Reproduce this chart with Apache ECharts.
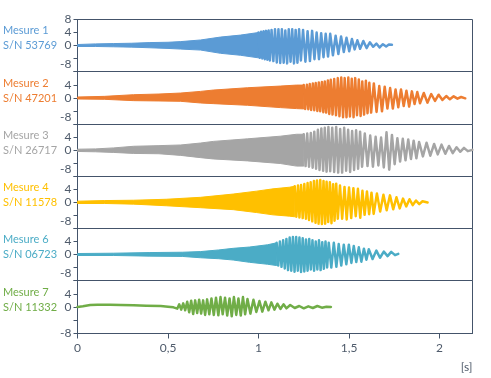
<!DOCTYPE html>
<html><head><meta charset="utf-8">
<script src="https://cdn.jsdelivr.net/npm/echarts@6/dist/echarts.min.js"></script>
<style>html,body{margin:0;padding:0;background:#fff}#c{width:491px;height:378px}</style>
</head><body><div id="c"></div><script>
// ---------- data ----------
const panelNames = ['Mesure 1', 'Mesure 2', 'Mesure 3', 'Mesure 4', 'Mesure 6', 'Mesure 7'];
const serials = ['S/N 53769', 'S/N 47201', 'S/N 26717', 'S/N 11578', 'S/N 06723', 'S/N 11332'];
const xTickValues = [0, 0.5, 1, 1.5, 2];
const xTickLabels = ['0', '0,5', '1', '1,5', '2'];
const yTickValues = [-8, -4, 0, 4, 8];
const yTickLabels = ['-8', '', '0', '4', '8'];
const xUnit = '[s]';

// dense part: [t, upper, lower]
const m1Band = [[0,0.3,-0.3],[0.1,0.5,-0.3],[0.2,0.6,-0.4],[0.3,0.7,-0.5],[0.4,0.9,-0.7],[0.5,1.0,-0.9],[0.57,1.2,-1.1],[0.68,1.7,-1.4],[0.79,2.6,-2.4],[0.9,3.2,-3.0],[1.0,4.0,-3.8]];
const m2Band = [[0,0.3,-0.3],[0.15,0.5,-0.4],[0.31,1.0,-0.8],[0.45,1.2,-0.9],[0.57,1.5,-1.0],[0.68,2.0,-1.5],[0.75,2.4,-1.7],[0.94,3.1,-2.2],[1.12,3.6,-2.9],[1.21,3.9,-3.2],[1.25,3.9,-3.3]];
const m3Band = [[0,0.4,-0.3],[0.1,0.5,-0.4],[0.2,0.8,-0.6],[0.31,1.3,-0.9],[0.45,1.5,-1.0],[0.57,1.7,-1.5],[0.68,2.3,-2.2],[0.75,2.8,-2.6],[0.94,3.6,-3.2],[1.12,4.4,-4.0],[1.21,5.0,-4.8],[1.25,5.0,-4.8]];
const m4Band = [[0,0.4,-0.3],[0.15,0.6,-0.3],[0.31,0.7,-0.5],[0.49,1.0,-1.0],[0.68,1.6,-1.6],[0.86,2.6,-2.2],[0.99,3.5,-3.1],[1.08,4.2,-3.8],[1.17,4.7,-4.2],[1.2,5.0,-4.4]];
const m6Band = [[0,0.3,-0.3],[0.2,0.4,-0.3],[0.4,0.6,-0.5],[0.58,0.7,-0.6],[0.68,0.9,-1.0],[0.78,1.4,-1.3],[0.86,1.9,-1.7],[0.95,2.3,-2.4],[1.05,3.0,-3.0],[1.1,3.6,-3.4]];

// oscillating part: [t, value]
const m1Tail = [[1.000,4.0],[1.007,-3.8],[1.014,4.2],[1.021,-4.0],[1.028,4.4],[1.035,-4.2],[1.042,4.5],[1.049,-4.4],[1.056,4.6],[1.063,-4.6],[1.072,4.8],[1.082,-4.8],[1.091,5.0],[1.101,-5.2],[1.110,5.0],[1.120,-5.4],[1.129,5.0],[1.139,-5.3],[1.148,4.6],[1.158,-5.5],[1.167,5.0],[1.177,-5.0],[1.186,5.0],[1.196,-5.5],[1.205,4.8],[1.215,-5.3],[1.224,5.0],[1.234,-4.6],[1.246,4.8],[1.259,-5.0],[1.271,4.4],[1.284,-4.8],[1.296,4.5],[1.309,-4.2],[1.321,4.0],[1.334,-4.2],[1.346,3.8],[1.359,-3.6],[1.371,3.6],[1.384,-3.4],[1.396,3.6],[1.411,-3.0],[1.426,3.0],[1.441,-2.6],[1.456,2.8],[1.471,-2.0],[1.486,2.4],[1.501,-1.8],[1.516,2.0],[1.531,-1.2],[1.546,1.6],[1.561,-1.0],[1.579,1.4],[1.597,-0.8],[1.615,1.0],[1.633,-0.4],[1.651,0.6],[1.669,-0.6],[1.687,0.4],[1.705,-0.3],[1.720,0.3],[1.737,0.2]];
const m2Tail = [[1.250,3.9],[1.258,-3.3],[1.267,4.0],[1.275,-3.4],[1.283,4.2],[1.291,-3.6],[1.300,4.4],[1.308,-3.7],[1.316,4.5],[1.325,-3.9],[1.333,4.7],[1.341,-4.0],[1.350,4.8],[1.358,-4.3],[1.366,5.0],[1.374,-4.4],[1.383,5.3],[1.391,-4.8],[1.399,5.5],[1.409,-5.0],[1.418,5.7],[1.428,-5.2],[1.438,6.0],[1.447,-5.5],[1.457,6.2],[1.467,-5.8],[1.476,6.0],[1.486,-5.8],[1.496,6.2],[1.505,-5.6],[1.515,5.8],[1.525,-5.8],[1.534,6.0],[1.544,-5.2],[1.554,5.6],[1.564,-5.4],[1.573,5.0],[1.583,-5.0],[1.593,5.2],[1.602,-4.6],[1.612,4.6],[1.622,-4.4],[1.637,4.4],[1.652,-4.2],[1.667,3.6],[1.682,-4.0],[1.697,3.4],[1.712,-3.2],[1.727,3.0],[1.742,-3.2],[1.757,2.6],[1.772,-2.8],[1.787,2.6],[1.802,-2.4],[1.817,2.2],[1.832,-2.6],[1.847,2.0],[1.862,-1.8],[1.877,1.8],[1.892,-1.6],[1.913,1.5],[1.933,-1.4],[1.954,1.2],[1.975,-0.9],[1.995,1.0],[2.016,-0.6],[2.037,0.6],[2.057,-0.4],[2.078,0.5],[2.099,-0.2],[2.119,0.3],[2.142,-0.1]];
const m3Tail = [[1.250,5.0],[1.260,-4.8],[1.269,5.2],[1.279,-5.0],[1.289,5.4],[1.299,-5.3],[1.308,5.8],[1.318,-5.6],[1.328,6.4],[1.337,-6.0],[1.347,6.8],[1.357,-6.2],[1.366,7.0],[1.376,-6.5],[1.386,7.2],[1.396,-6.4],[1.407,7.0],[1.418,-6.6],[1.429,7.2],[1.440,-6.8],[1.451,6.6],[1.462,-6.8],[1.473,7.0],[1.484,-6.2],[1.495,6.4],[1.506,-6.6],[1.517,6.0],[1.528,-6.0],[1.539,6.2],[1.550,-5.6],[1.561,5.8],[1.572,-5.0],[1.587,5.2],[1.602,-4.8],[1.617,4.6],[1.632,-5.0],[1.647,4.2],[1.662,-4.6],[1.677,4.0],[1.692,-5.2],[1.707,5.6],[1.722,-5.9],[1.737,4.8],[1.752,-4.2],[1.767,3.8],[1.782,-3.4],[1.797,3.6],[1.812,-3.0],[1.827,3.4],[1.842,-2.6],[1.857,3.0],[1.872,-2.4],[1.887,2.6],[1.908,-1.8],[1.928,2.4],[1.949,-1.6],[1.970,2.0],[1.990,-1.2],[2.011,1.8],[2.032,-1.0],[2.052,1.4],[2.073,-0.8],[2.094,1.0],[2.114,-0.4],[2.135,0.8],[2.156,-0.2],[2.181,0.2]];
const m4Tail = [[1.200,5.0],[1.209,-4.4],[1.218,5.2],[1.226,-4.6],[1.235,5.4],[1.244,-4.8],[1.253,5.7],[1.262,-5.0],[1.271,6.0],[1.279,-5.4],[1.288,6.2],[1.297,-5.8],[1.306,6.6],[1.315,-6.2],[1.323,6.8],[1.332,-6.5],[1.341,6.9],[1.350,-6.6],[1.359,6.6],[1.368,-6.5],[1.376,6.4],[1.385,-6.0],[1.394,6.2],[1.403,-6.4],[1.412,5.6],[1.420,-5.6],[1.429,5.8],[1.438,-5.0],[1.450,5.2],[1.462,-5.0],[1.475,4.8],[1.487,-5.2],[1.500,4.6],[1.512,-4.8],[1.524,4.4],[1.537,-4.2],[1.549,4.2],[1.562,-4.7],[1.574,3.6],[1.586,-3.8],[1.599,3.4],[1.611,-3.6],[1.624,3.0],[1.636,-3.5],[1.654,2.8],[1.672,-2.8],[1.690,2.4],[1.708,-2.4],[1.726,2.2],[1.744,-2.1],[1.762,1.6],[1.780,-1.8],[1.798,1.2],[1.816,-1.2],[1.834,1.0],[1.852,-0.8],[1.870,0.6],[1.888,-0.5],[1.906,0.4],[1.934,0.0]];
const m6Tail = [[1.100,3.6],[1.109,-3.4],[1.118,4.0],[1.127,-3.8],[1.136,4.4],[1.145,-4.3],[1.154,4.8],[1.163,-4.8],[1.172,5.2],[1.181,-5.0],[1.190,5.4],[1.199,-5.3],[1.208,5.4],[1.217,-5.0],[1.226,5.2],[1.235,-5.4],[1.244,5.0],[1.253,-5.2],[1.262,4.6],[1.271,-5.0],[1.280,4.8],[1.289,-4.6],[1.298,4.4],[1.307,-5.0],[1.316,4.0],[1.325,-4.6],[1.334,4.4],[1.343,-4.8],[1.352,3.8],[1.361,-4.4],[1.370,4.0],[1.379,-4.0],[1.388,3.6],[1.402,-4.0],[1.416,3.6],[1.430,-3.8],[1.443,3.2],[1.457,-3.4],[1.471,3.0],[1.485,-3.0],[1.499,3.0],[1.513,-2.6],[1.526,2.6],[1.540,-2.3],[1.554,2.2],[1.568,-2.2],[1.582,1.8],[1.596,-1.6],[1.609,1.6],[1.630,-1.4],[1.651,1.2],[1.671,-1.0],[1.692,0.9],[1.713,-0.5],[1.733,0.8],[1.754,-0.2],[1.772,0.2]];
const m7Tail = [[0,0.0],[0.03,0.2],[0.07,0.6],[0.11,0.7],[0.18,0.7],[0.24,0.6],[0.31,0.5],[0.38,0.4],[0.46,0.3],[0.50,0.1],[0.53,-0.1],[0.540,0.5],[0.551,-0.5],[0.562,0.8],[0.573,-0.8],[0.584,1.1],[0.595,-1.0],[0.606,1.6],[0.617,-1.6],[0.628,1.9],[0.639,-2.1],[0.650,2.0],[0.661,-1.8],[0.672,2.2],[0.683,-2.0],[0.694,2.0],[0.705,-2.4],[0.716,2.3],[0.728,-2.2],[0.740,2.6],[0.753,-2.4],[0.765,2.8],[0.778,-2.5],[0.790,3.0],[0.802,-2.2],[0.815,2.8],[0.827,-2.6],[0.840,2.6],[0.852,-2.8],[0.864,3.0],[0.877,-2.4],[0.889,2.6],[0.902,-2.6],[0.914,3.0],[0.926,-2.2],[0.939,2.4],[0.955,-2.0],[0.972,2.2],[0.988,-1.5],[1.005,1.8],[1.021,-1.4],[1.038,1.6],[1.055,-1.0],[1.071,1.4],[1.088,-0.8],[1.104,1.0],[1.121,-0.6],[1.138,0.8],[1.154,-0.4],[1.175,0.6],[1.200,-0.3],[1.225,0.3],[1.250,-0.4],[1.275,0.2],[1.300,-0.3],[1.325,0.3],[1.350,-0.2],[1.375,0.1],[1.400,0.0]];

// ---------- styles / layout ----------
const colors = ['#5B9BD5', '#ED7D31', '#A5A5A5', '#FFC000', '#4BACC6', '#70AD47'];
const axisColor = '#44546A';
const textColor = '#4F5B6B';
const FONT = 'Lato';
const bands = [m1Band, m2Band, m3Band, m4Band, m6Band, null];
const tails = [m1Tail, m2Tail, m3Tail, m4Tail, m6Tail, m7Tail];
const gridTops = [19.5, 71.5, 124.5, 176.5, 228.5, 280.5];
const gridHeights = [52, 53, 52, 52, 52, 53];
const plotLeft = 77.5, plotRight = 472.5, xMax = 2.182;

const grids = [], xAxes = [], yAxes = [], series = [], graphics = [];
const n = panelNames.length;
for (let i = 0; i < n; i++) {
  const last = i === n - 1;
  grids.push({left: plotLeft, top: gridTops[i], width: plotRight - plotLeft, height: gridHeights[i],
    show: true, borderColor: axisColor, borderWidth: 1, backgroundColor: 'transparent'});
  xAxes.push({gridIndex: i, type: 'value', min: 0, max: xMax, interval: 0.5,
    axisLine: {show: last, onZero: false, lineStyle: {color: axisColor}},
    axisTick: {show: last, length: 5, customValues: xTickValues, lineStyle: {color: axisColor}},
    splitLine: {show: false},
    axisLabel: {show: last, customValues: xTickValues, margin: 9, color: textColor,
      fontFamily: FONT, fontSize: 12,
      formatter: v => { const k = xTickValues.indexOf(v); return k >= 0 ? xTickLabels[k] : ''; }}});
  yAxes.push({gridIndex: i, type: 'value', min: -8, max: 8, interval: 4,
    axisLine: {show: true, lineStyle: {color: axisColor}},
    axisTick: {show: true, length: 4, lineStyle: {color: axisColor}},
    splitLine: {show: false},
    axisLabel: {margin: 6, color: textColor, fontFamily: FONT, fontSize: 12,
      rich: {up: {padding: [0, 0, 14, 0], color: textColor, fontFamily: FONT, fontSize: 12}},
      formatter: v => {
        const k = yTickValues.indexOf(v);
        const s = k >= 0 ? yTickLabels[k] : '';
        if (v === 8 && i > 0) return '';
        if (v === -8 && !last) return '{up|' + s + '}';
        return s;
      }}});
  const color = colors[i];
  if (bands[i]) {
    const band = bands[i];
    series.push({type: 'custom', xAxisIndex: i, yAxisIndex: i, silent: true, animation: false,
      data: [[0, 0]],
      renderItem: (params, api) => {
        const pts = [];
        band.forEach(p => pts.push(api.coord([p[0], p[1]])));
        for (let k = band.length - 1; k >= 0; k--) pts.push(api.coord([band[k][0], band[k][2]]));
        return {type: 'polygon', shape: {points: pts}, style: {fill: color, stroke: color, lineWidth: 1}};
      }});
  }
  series.push({type: 'line', xAxisIndex: i, yAxisIndex: i, data: tails[i], showSymbol: false,
    silent: true, animation: false,
    lineStyle: {color: color, width: 2.5, join: 'round', cap: 'round'}});
  const zeroY = gridTops[i] + gridHeights[i] / 2;
  graphics.push({type: 'text', x: 3, y: zeroY - 15,
    style: {text: panelNames[i], fill: color, font: '11px ' + FONT, verticalAlign: 'middle', align: 'left'}});
  graphics.push({type: 'text', x: 3, y: zeroY,
    style: {text: serials[i], fill: color, font: '11px ' + FONT, verticalAlign: 'middle', align: 'left'}});
}
graphics.push({type: 'text', x: plotRight, y: 367,
  style: {text: xUnit, fill: textColor, font: '12px ' + FONT, verticalAlign: 'middle', align: 'right'}});

const chart = echarts.init(document.getElementById('c'), null, {renderer: 'canvas'});
chart.setOption({animation: false, grid: grids, xAxis: xAxes, yAxis: yAxes, series: series, graphic: graphics});
</script></body></html>
